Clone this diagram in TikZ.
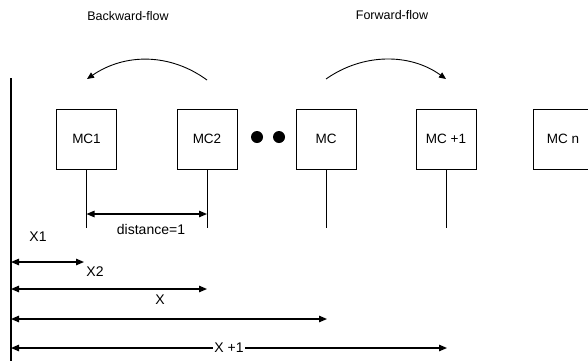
\documentclass[tikz,border=0pt]{standalone}
\usepackage{fontspec}
\setmainfont{Liberation Sans}
\usetikzlibrary{arrows.meta}
\begin{document}
\begin{tikzpicture}[x=1pt,y=-1pt,
  mcbox/.style={draw,line width=0.9pt,minimum width=60pt,minimum height=60pt,inner sep=0pt,font=\fontsize{13.5}{15}\selectfont},
  lbl/.style={inner sep=1pt,font=\fontsize{12.5}{14}\selectfont},
  biglbl/.style={inner sep=1pt,font=\fontsize{14}{16}\selectfont},
  stem/.style={line width=0.9pt},
  dtip/.style={{Triangle[length=8pt,width=6.5pt]}-{Triangle[length=8pt,width=6.5pt]}},
  meas/.style={line width=1.2pt},
  flow/.style={line width=0.9pt,-{Triangle[length=7pt,width=6pt]}}]
\useasboundingbox (0,0) rectangle (588,360);
% titles
\node[lbl] (bf) at (128,16) {Backward-flow};
\node[lbl] (ff) at (392,15) {Forward-flow};
% axis
\coordinate (atop) at (11,78);
\coordinate (abot) at (11,362);
\draw[line width=2.6pt] (atop) -- (abot);
% boxes
\node[mcbox] (mc1) at (86.5,139) {MC1};
\node[mcbox] (mc2) at (207,139) {MC2};
\node[mcbox] (mc) at (326,139) {MC};
\node[mcbox] (mcp) at (446,139) {MC +1};
\node[mcbox] (mcn) at (563,139) {MC n};
% dots
\fill (257,137) circle (6pt);
\fill (279,137) circle (6pt);
% stems
\coordinate (s1) at (86.5,228);
\coordinate (s2) at (207,228);
\coordinate (s3) at (326,228);
\coordinate (s4) at (446,228);
\draw[stem] (mc1.south) -- (s1);
\draw[stem] (mc2.south) -- (s2);
\draw[stem] (mc.south) -- (s3);
\draw[stem] (mcp.south) -- (s4);
% flows
\coordinate (b0) at (207,80);
\coordinate (b1) at (87,79);
\draw[flow] (b0) .. controls (170,53) and (125,53) .. (b1);
\coordinate (f0) at (326,79);
\coordinate (f1) at (446,79);
\draw[flow] (f0) .. controls (363,53) and (410,53) .. (f1);
% distance
\coordinate (d1) at (86.5,214);
\coordinate (d2) at (207,214);
\draw[meas,dtip] (d1) -- (d2);
\node[biglbl] (dl) at (151,229) {distance=1};
% x measures
\node[biglbl] (x1) at (38,237) {X1};
\coordinate (l1) at (11,262); \coordinate (r1) at (84,262);
\draw[meas,dtip] (l1) -- (r1);
\node[biglbl] (x2) at (95,272) {X2};
\coordinate (l2) at (11,289); \coordinate (r2) at (207,289);
\draw[meas,dtip] (l2) -- (r2);
\node[biglbl] (x) at (160,300) {X};
\coordinate (l3) at (11,319); \coordinate (r3) at (327,319);
\draw[meas,dtip] (l3) -- (r3);
\coordinate (l4) at (11,348); \coordinate (r4) at (447,348);
\draw[meas,dtip] (l4) -- (r4);
\node[biglbl,fill=white] (xp) at (229,348) {X +1};
\end{tikzpicture}
\end{document}
